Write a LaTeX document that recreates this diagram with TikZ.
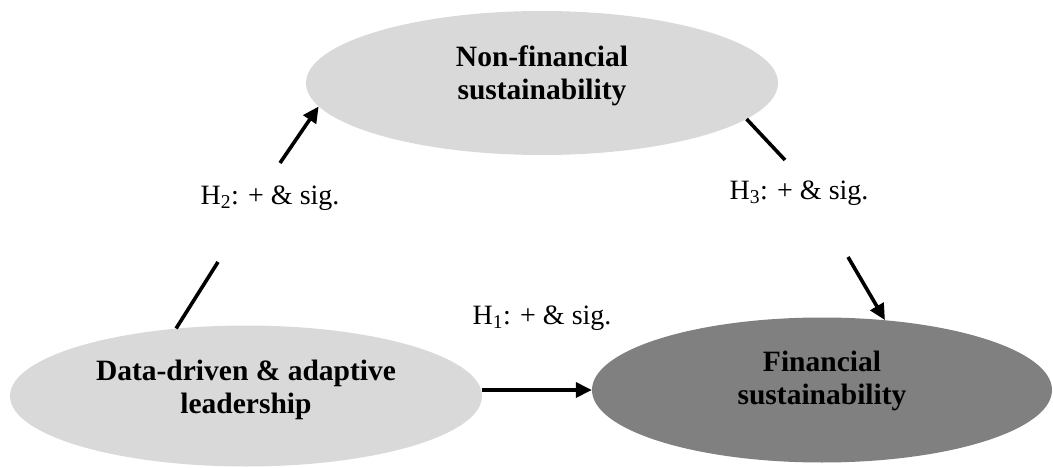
\documentclass[tikz,border=0pt]{standalone}
\usepackage{fontspec}
\setmainfont{Liberation Serif}
\usetikzlibrary{shapes.geometric,arrows.meta}
\definecolor{lightgr}{HTML}{D9D9D9}
\definecolor{darkgr}{HTML}{808080}
\tikzset{
  oval/.style={ellipse, inner sep=0pt},
  ovaltext/.style={inner sep=0pt, align=center, font=\fontsize{29.5}{32.5}\selectfont\bfseries},
  conn/.style={line width=3.6pt, black},
  arr/.style={conn, -{Triangle[length=16pt,width=15pt]}},
  hlabel/.style={font=\fontsize{28}{31}\selectfont, inner sep=0pt}
}
\begin{document}
\begin{tikzpicture}[x=1pt,y=-1pt]
\useasboundingbox (0,0) rectangle (1053,468);
\node[oval, fill=lightgr, minimum width=472pt, minimum height=144pt] (T) at (542,83) {};
\node[oval, fill=lightgr, minimum width=472pt, minimum height=141pt] (L) at (246,396) {};
\node[oval, fill=darkgr, minimum width=460pt, minimum height=145pt] (R) at (822,390) {};
\node[ovaltext] (Tt) at (542,76) {Non-financial\\sustainability};
\node[ovaltext] (Lt) at (246,390) {Data-driven \& adaptive\\leadership};
\node[ovaltext] (Rt) at (822,381) {Financial\\sustainability};

\node[hlabel] (h2) at (270,198) {H\textsubscript{2}: + \& sig.};
\node[hlabel] (h3) at (799,193) {H\textsubscript{3}: + \& sig.};
\node[hlabel] (h1) at (542,318) {H\textsubscript{1}: + \& sig.};

\coordinate (h2a) at (218,262);
\coordinate (h2b) at (280,163);
\coordinate (h3a) at (785,160);
\coordinate (h3b) at (848,257);

\draw[conn] (L.136.6) -- (h2a);
\draw[arr] (h2b) -- (T.186.4);
\draw[conn] (T.350.9) -- (h3a);
\draw[arr] (h3b) -- (R.48.7);
\draw[arr] (L.east |- R.west) -- (R.west);
\end{tikzpicture}
\end{document}
